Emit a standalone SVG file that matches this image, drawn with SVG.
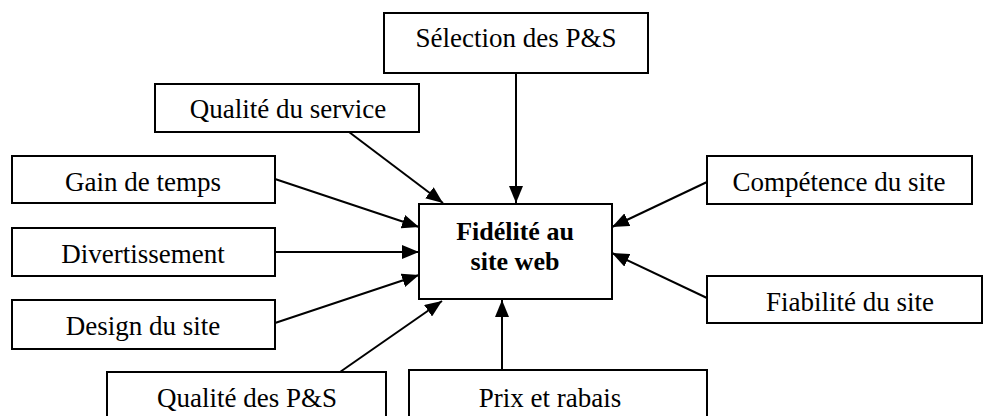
<svg xmlns="http://www.w3.org/2000/svg" width="983" height="416" viewBox="0 0 983 416">
  <style>
    .box { fill: #ffffff; stroke: #000000; stroke-width: 2; }
    .lbl { font-family: "Liberation Serif", "Times New Roman", serif; font-size: 27px; fill: #000000; text-anchor: middle; }
    .main { font-weight: bold; font-size: 26px; }
    .link { stroke: #000000; stroke-width: 2; fill: none; marker-end: url(#arrow); }
  </style>
  <defs>
    <marker id="arrow" markerUnits="userSpaceOnUse" markerWidth="17" markerHeight="14" refX="17" refY="7" orient="auto">
      <path d="M0,0 L17,7 L0,14 Z" fill="#000000"/>
    </marker>
  </defs>
  <rect width="983" height="416" fill="#ffffff"/>

  <!-- connectors: every factor points to the central node -->
  <g id="connectors">
    <line class="link" x1="516" y1="73" x2="516" y2="203"/>
    <line class="link" x1="349" y1="132" x2="443" y2="203"/>
    <line class="link" x1="275" y1="179" x2="419" y2="227"/>
    <line class="link" x1="275" y1="252" x2="419" y2="252"/>
    <line class="link" x1="275" y1="323" x2="419" y2="275"/>
    <line class="link" x1="340" y1="372" x2="442" y2="301"/>
    <line class="link" x1="502" y1="370" x2="502" y2="300"/>
    <line class="link" x1="707" y1="182" x2="612" y2="227"/>
    <line class="link" x1="707" y1="298" x2="612" y2="253"/>
  </g>

  <g id="fidelite">
    <rect class="box" x="419" y="204" width="193" height="95"/>
    <text class="lbl main" x="515" y="240">Fidélité au</text>
    <text class="lbl main" x="515" y="270">site web</text>
  </g>

  <g id="selection">
    <rect class="box" x="384" y="13" width="264" height="60"/>
    <text class="lbl" x="516" y="47">Sélection des P&amp;S</text>
  </g>

  <g id="qualite-service">
    <rect class="box" x="155" y="84" width="264" height="48"/>
    <text class="lbl" x="288" y="118">Qualité du service</text>
  </g>

  <g id="gain-temps">
    <rect class="box" x="12" y="156" width="263" height="47"/>
    <text class="lbl" x="143" y="191">Gain de temps</text>
  </g>

  <g id="divertissement">
    <rect class="box" x="12" y="228" width="263" height="48"/>
    <text class="lbl" x="143" y="263">Divertissement</text>
  </g>

  <g id="design-site">
    <rect class="box" x="12" y="300" width="263" height="49"/>
    <text class="lbl" x="143" y="335">Design du site</text>
  </g>

  <g id="qualite-ps">
    <rect class="box" x="107" y="372" width="279" height="60"/>
    <text class="lbl" x="247" y="407">Qualité des P&amp;S</text>
  </g>

  <g id="prix-rabais">
    <rect class="box" x="409" y="370" width="298" height="60"/>
    <text class="lbl" x="550" y="407">Prix et rabais</text>
  </g>

  <g id="competence-site">
    <rect class="box" x="707" y="156" width="265" height="48"/>
    <text class="lbl" x="839" y="191">Compétence du site</text>
  </g>

  <g id="fiabilite-site">
    <rect class="box" x="707" y="276" width="275" height="47"/>
    <text class="lbl" x="850" y="311">Fiabilité du site</text>
  </g>
</svg>
